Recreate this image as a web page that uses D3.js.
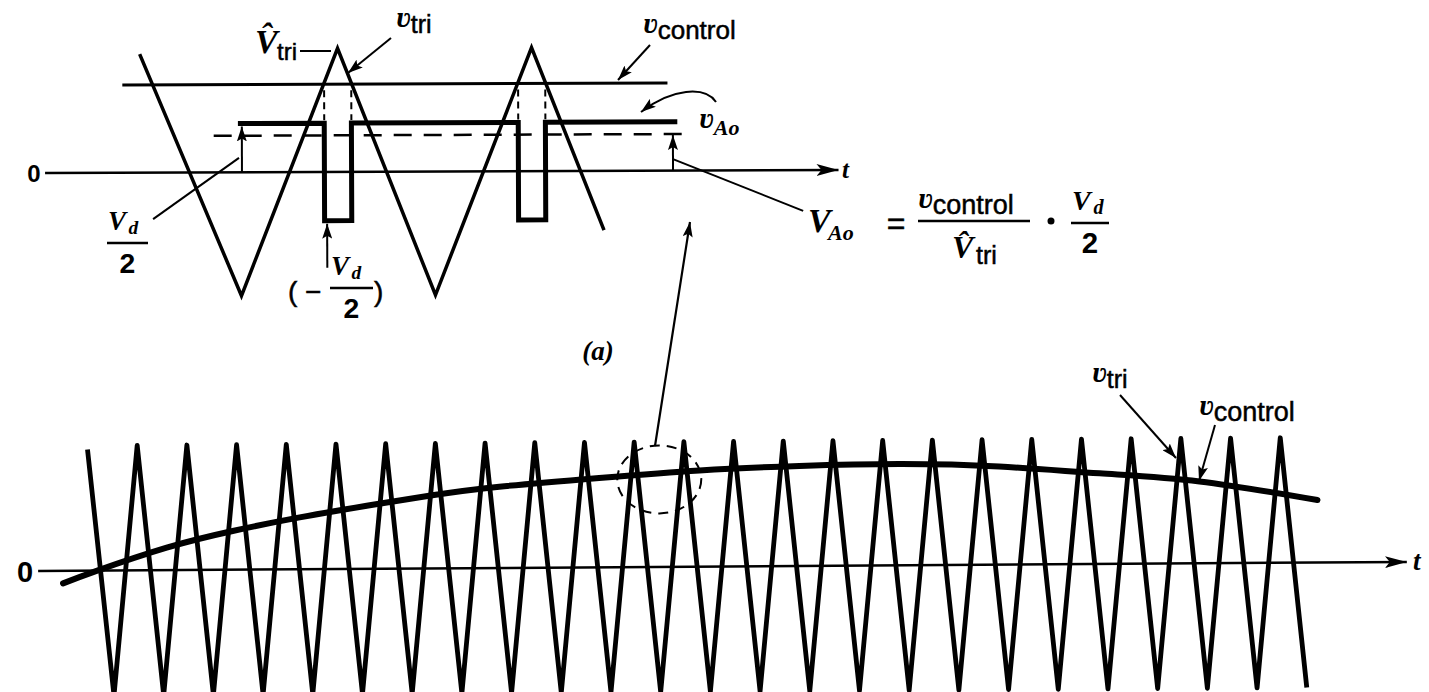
<!DOCTYPE html>
<html>
<head>
<meta charset="utf-8">
<script src="https://cdn.jsdelivr.net/npm/d3@7"></script>
<style>
  body { margin: 0; background: #fff; }
  svg { display: block; }
</style>
</head>
<body>
<svg id="chart" width="1429" height="692"></svg>
<script>
// ---- panel (a): a close look at two carrier periods (t in carrier periods, v in units of V^tri)
const triTopT = [-0.02, 0.5, 1, 1.5, 2, 2.37];
const triTopV = [0.96, -1, 1, -1, 1, -0.48];
const ctrlTopT = [-0.11, 2.70];
const ctrlTopV = [0.71, 0.71];
const vdHalf = 0.395;
const aoT = [0.485, 0.93, 1.07, 1.93, 2.07, 2.75];
const aoV = [vdHalf, -vdHalf, vdHalf, -vdHalf, vdHalf, vdHalf];
const avgT = [0.36, 2.78];
const avgV = [0.296, 0.296];
const switchT = [0.93, 1.07, 1.93, 2.07];
const axisTopT = [-0.51, 3.58];

// ---- panel (b): the whole control period
const triBotT = [0, 0.5, 1, 1.5, 2, 2.5, 3, 3.5, 4, 4.5, 5, 5.5, 6, 6.5, 7, 7.5, 8, 8.5, 9, 9.5,
  10, 10.5, 11, 11.5, 12, 12.5, 13, 13.5, 14, 14.5, 15, 15.5, 16, 16.5, 17, 17.5, 18, 18.5, 19, 19.5,
  20, 20.5, 21, 21.5, 22, 22.5, 23, 23.5, 24, 24.5];
const triBotV = [0.97, -1, 1, -1, 1, -1, 1, -1, 1, -1, 1, -1, 1, -1, 1, -1, 1, -1, 1, -1,
  1, -1, 1, -1, 1, -1, 1, -1, 1, -1, 1, -1, 1, -1, 1, -1, 1, -1, 1, -1,
  1, -1, 1, -1, 1, -1, 1, -1, 1, -1];
const ctrlBotT = [-0.51, 0.18, 1.58, 2.91, 4.26, 5.61, 6.93, 8.28, 10.29, 12.31, 14.32, 16.33, 18.34, 20.36, 22.37, 24.74];
const ctrlBotV = [-0.1, 0.0, 0.18, 0.31, 0.415, 0.505, 0.585, 0.65, 0.715, 0.77, 0.80, 0.81, 0.785, 0.725, 0.655, 0.5];
const axisBotT = [-1.01, 26.53];
const zoomSpot = { t: 11.5, v: 0.70 };

const svg = d3.select("#chart");
const serif = "'Liberation Serif', 'DejaVu Serif', serif";
const sans = "'Liberation Sans', Arial, sans-serif";

const defs = svg.append("defs");
defs.append("marker")
  .attr("id", "axisHead")
  .attr("markerUnits", "userSpaceOnUse")
  .attr("markerWidth", 24).attr("markerHeight", 14)
  .attr("refX", 22).attr("refY", 7)
  .attr("orient", "auto")
  .append("path").attr("d", "M0,1 L22,7 L0,13 L5,7 z").attr("fill", "#000");
defs.append("marker")
  .attr("id", "head")
  .attr("markerUnits", "userSpaceOnUse")
  .attr("markerWidth", 16).attr("markerHeight", 10)
  .attr("refX", 15).attr("refY", 5)
  .attr("orient", "auto")
  .append("path").attr("d", "M0,0 L15,5 L0,10 L3,5 z").attr("fill", "#000");

// ---------- scales
const xT = d3.scaleLinear().domain([0, 3]).range([144, 726]);
const yT = d3.scaleLinear().domain([-1, 1]).range([295, 48]);
const xB = d3.scaleLinear().domain([0, 25]).range([88.3, 1330.8]);
const yB = d3.scaleLinear().domain([-1, 1]).range([691.5, 441.5]);

const lineT = d3.line().x(d => xT(d[0])).y(d => yT(d[1]));
const lineB = d3.line().x(d => xB(d[0])).y(d => yB(d[1]));

// ---------- panel (a)
const gT = svg.append("g").attr("transform", "rotate(-0.22 440 171.5)");

gT.append("path")
  .datum(axisTopT.map(t => [t, 0]))
  .attr("d", lineT)
  .attr("stroke", "#000").attr("stroke-width", 2.5).attr("fill", "none")
  .attr("marker-end", "url(#axisHead)");

gT.append("path")
  .datum(ctrlTopT.map((t, i) => [t, ctrlTopV[i]]))
  .attr("d", lineT)
  .attr("stroke", "#000").attr("stroke-width", 3).attr("fill", "none");

gT.append("path")
  .datum(avgT.map((t, i) => [t, avgV[i]]))
  .attr("d", lineT)
  .attr("stroke", "#000").attr("stroke-width", 2.5).attr("fill", "none")
  .attr("stroke-dasharray", "18,12");

gT.selectAll(".sw")
  .data(switchT)
  .enter().append("line")
  .attr("x1", d => xT(d)).attr("x2", d => xT(d))
  .attr("y1", yT(ctrlTopV[0]) + 6).attr("y2", yT(vdHalf) - 3)
  .attr("stroke", "#000").attr("stroke-width", 2)
  .attr("stroke-dasharray", "7,5");

gT.append("path")
  .datum(triTopT.map((t, i) => [t, triTopV[i]]))
  .attr("d", lineT)
  .attr("stroke", "#000").attr("stroke-width", 3.5).attr("fill", "none")
  .attr("stroke-linejoin", "miter");

gT.append("path")
  .datum(aoT.map((t, i) => [t, aoV[i]]))
  .attr("d", d3.line().x(d => xT(d[0])).y(d => yT(d[1])).curve(d3.curveStepAfter))
  .attr("stroke", "#000").attr("stroke-width", 5).attr("fill", "none")
  .attr("stroke-linejoin", "miter");

// V_d/2 marker on the left, V_Ao marker on the right, -V_d/2 marker under the pulse
gT.append("line")
  .attr("x1", xT(0.505)).attr("x2", xT(0.505))
  .attr("y1", yT(0)).attr("y2", yT(vdHalf) + 3)
  .attr("stroke", "#000").attr("stroke-width", 2)
  .attr("marker-end", "url(#head)");
gT.append("line")
  .attr("x1", xT(0.046)).attr("y1", yT(-0.377))
  .attr("x2", xT(0.49)).attr("y2", yT(0.117))
  .attr("stroke", "#000").attr("stroke-width", 2);

gT.append("line")
  .attr("x1", xT(2.727)).attr("x2", xT(2.727))
  .attr("y1", yT(0)).attr("y2", yT(avgV[0]) + 1)
  .attr("stroke", "#000").attr("stroke-width", 2)
  .attr("marker-end", "url(#head)");
gT.append("line")
  .attr("x1", xT(2.727)).attr("y1", yT(0.093))
  .attr("x2", xT(3.397)).attr("y2", yT(-0.33))
  .attr("stroke", "#000").attr("stroke-width", 2);

gT.append("line")
  .attr("x1", xT(0.943)).attr("x2", xT(0.943))
  .attr("y1", yT(-0.775)).attr("y2", yT(-vdHalf) + 3)
  .attr("stroke", "#000").attr("stroke-width", 2)
  .attr("marker-end", "url(#head)");

// ---------- panel (b)
const gB = svg.append("g").attr("transform", "rotate(-0.38 720 566.5)");

gB.append("path")
  .datum(axisBotT.map(t => [t, 0]))
  .attr("d", lineB)
  .attr("stroke", "#000").attr("stroke-width", 2.5).attr("fill", "none")
  .attr("marker-end", "url(#axisHead)");

gB.append("path")
  .datum(triBotT.map((t, i) => [t, triBotV[i]]))
  .attr("d", lineB)
  .attr("stroke", "#000").attr("stroke-width", 4.8).attr("fill", "none")
  .attr("stroke-linejoin", "round");

gB.append("path")
  .datum(ctrlBotT.map((t, i) => [t, ctrlBotV[i]]))
  .attr("d", d3.line().x(d => xB(d[0])).y(d => yB(d[1])).curve(d3.curveNatural))
  .attr("stroke", "#000").attr("stroke-width", 6).attr("fill", "none")
  .attr("stroke-linecap", "round");

gB.append("ellipse")
  .attr("cx", xB(zoomSpot.t)).attr("cy", yB(zoomSpot.v))
  .attr("rx", 42).attr("ry", 34)
  .attr("fill", "none").attr("stroke", "#000").attr("stroke-width", 2)
  .attr("stroke-dasharray", "10,7");

// arrow tying the circled spot to panel (a)
svg.append("line")
  .attr("x1", 655).attr("y1", 446).attr("x2", 690).attr("y2", 222)
  .attr("stroke", "#000").attr("stroke-width", 2.2)
  .attr("marker-end", "url(#head)");

// ---------- text helpers
function vLabel(g, x, y, sub, size, subSize) {
  const t = g.append("text").attr("x", x).attr("y", y).attr("fill", "#000");
  t.append("tspan").text("ʋ")
    .attr("font-family", serif).attr("font-style", "italic").attr("font-weight", "bold")
    .attr("font-size", size);
  t.append("tspan").text(sub)
    .attr("font-family", sans).attr("font-size", subSize).attr("dy", 6)
    .attr("stroke", "#000").attr("stroke-width", 0.5);
  return t;
}
function italic(g, x, y, s, size, anchor) {
  return g.append("text").attr("x", x).attr("y", y).text(s)
    .attr("font-family", serif).attr("font-style", "italic").attr("font-weight", "bold")
    .attr("font-size", size).attr("text-anchor", anchor || "start");
}
function plain(g, x, y, s, size, anchor, weight) {
  return g.append("text").attr("x", x).attr("y", y).text(s)
    .attr("font-family", sans).attr("font-weight", weight || "normal")
    .attr("font-size", size).attr("text-anchor", anchor || "start")
    .attr("stroke", "#000").attr("stroke-width", weight ? 0 : 0.5);
}
function frac(g, x, y, w, size) {
  // V_d over 2, x = left of the bar, y = bar height
  italic(g, x + 1, y - 13, "V", size);
  italic(g, x + size * 0.8, y - 9, "d", size * 0.72);
  g.append("line").attr("x1", x).attr("x2", x + w).attr("y1", y).attr("y2", y)
    .attr("stroke", "#000").attr("stroke-width", 2.5);
  plain(g, x + w / 2, y + 30, "2", size * 1.05, "middle", "bold");
}

const lab = svg.append("g");

// panel (a) labels
plain(lab, 34, 182, "0", 24, "middle", "bold");
italic(lab, 842, 178, "t", 25);
italic(lab, 255, 53, "V\u0302", 34);
plain(lab, 277, 60, "tri", 24);
lab.append("line").attr("x1", 300).attr("x2", 331).attr("y1", 51).attr("y2", 51)
  .attr("stroke", "#000").attr("stroke-width", 2);

vLabel(lab, 396, 27, "tri", 30, 25);
lab.append("line").attr("x1", 391).attr("y1", 38).attr("x2", 348).attr("y2", 73)
  .attr("stroke", "#000").attr("stroke-width", 2).attr("marker-end", "url(#head)");

vLabel(lab, 643, 33, "control", 30, 26);
lab.append("line").attr("x1", 650).attr("y1", 45).attr("x2", 618).attr("y2", 80)
  .attr("stroke", "#000").attr("stroke-width", 2).attr("marker-end", "url(#head)");

const ao = lab.append("text").attr("x", 699).attr("y", 128);
ao.append("tspan").text("ʋ").attr("font-family", serif).attr("font-style", "italic")
  .attr("font-weight", "bold").attr("font-size", 30);
ao.append("tspan").text("Ao").attr("font-family", serif).attr("font-style", "italic")
  .attr("font-weight", "bold").attr("font-size", 22).attr("dy", 7);
lab.append("path").attr("d", "M716,102 C705,86 672,88 641,112")
  .attr("fill", "none").attr("stroke", "#000").attr("stroke-width", 2)
  .attr("marker-end", "url(#head)");

frac(lab, 107, 243, 41, 27);
plain(lab, 288, 301, "(", 28);
plain(lab, 305, 301, "−", 28);
frac(lab, 330, 288, 43, 27);
plain(lab, 374, 301, ")", 28);

// formula
italic(lab, 808, 232, "V", 34);
italic(lab, 828, 240, "Ao", 22);
plain(lab, 896, 234, "=", 32, "middle");
vLabel(lab, 918, 208, "control", 30, 27);
lab.append("line").attr("x1", 918).attr("x2", 1030).attr("y1", 221).attr("y2", 221)
  .attr("stroke", "#000").attr("stroke-width", 2.5);
italic(lab, 952, 258, "V\u0302", 32);
plain(lab, 976, 264, "tri", 25);
lab.append("circle").attr("cx", 1051).attr("cy", 221).attr("r", 3.5).attr("fill", "#000");
frac(lab, 1071, 223, 38, 28);

italic(lab, 598, 360, "(a)", 27, "middle");

// panel (b) labels
plain(lab, 25, 582, "0", 29, "middle", "bold");
italic(lab, 1413, 570, "t", 27);
vLabel(lab, 1092, 382, "tri", 30, 25);
lab.append("line").attr("x1", 1120).attr("y1", 395).attr("x2", 1176).attr("y2", 458)
  .attr("stroke", "#000").attr("stroke-width", 2).attr("marker-end", "url(#head)");
vLabel(lab, 1199, 415, "control", 30, 27);
lab.append("line").attr("x1", 1215).attr("y1", 425).attr("x2", 1199).attr("y2", 481)
  .attr("stroke", "#000").attr("stroke-width", 2).attr("marker-end", "url(#head)");
</script>
</body>
</html>
